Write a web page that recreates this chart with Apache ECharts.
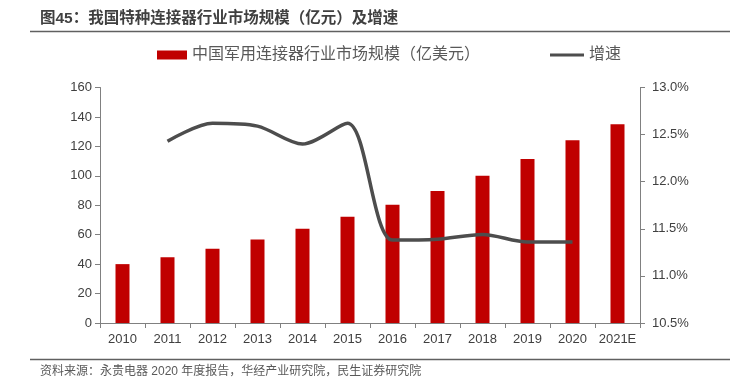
<!DOCTYPE html>
<html><head><meta charset="utf-8">
<script src="https://cdn.jsdelivr.net/npm/echarts@6/dist/echarts.min.js"></script>
<style>html,body{margin:0;padding:0;background:#fff}#c{width:736px;height:388px}</style>
</head><body><div id="c"></div>
<script>
var categories = ['2010','2011','2012','2013','2014','2015','2016','2017','2018','2019','2020','2021E'];
var marketSize = [40, 44.6, 50.5, 56.8, 64.1, 72.2, 80.4, 89.7, 100.1, 111.4, 124.1, 135];
var growth = [null, 12.43, 12.62, 12.59, 12.40, 12.62, 11.38, 11.39, 11.44, 11.36, 11.36, null];
var leftTicks = [0, 160, 20];
var rightTicks = [10.5, 13.0, 0.5];

var FONT = '"Liberation Sans", "Noto Sans CJK SC", sans-serif';
var TXT = '#404040';
var AX = '#808080';
var chart = echarts.init(document.getElementById('c'));
chart.setOption({
  animation: false,
  textStyle: {fontFamily: FONT},
  graphic: [
    {type: 'text', left: 40, top: 11, style: {text: '图45：我国特种连接器行业市场规模（亿元）及增速', font: 'bold 15.5px ' + FONT, fill: '#404040'}},
    {type: 'line', shape: {x1: 30, y1: 31.5, x2: 730, y2: 31.5}, style: {stroke: '#606060', lineWidth: 1.5}},
    {type: 'line', shape: {x1: 30, y1: 359.5, x2: 730, y2: 359.5}, style: {stroke: '#606060', lineWidth: 1.5}},
    {type: 'text', left: 40, top: 366, style: {text: '资料来源：永贵电器 2020 年度报告，华经产业研究院，民生证券研究院', font: '12px ' + FONT, fill: '#595959'}}
  ],
  legend: [
    {data: ['中国军用连接器行业市场规模（亿美元）'], left: 152, top: 42, icon: 'rect', itemWidth: 30, itemHeight: 9, itemGap: 5,
     textStyle: {fontSize: 16, color: '#595959', fontFamily: FONT}},
    {data: ['增速'], left: 545, top: 42, icon: 'rect', itemWidth: 34, itemHeight: 3, itemGap: 5,
     textStyle: {fontSize: 16, color: '#595959', fontFamily: FONT}}
  ],
  grid: {left: 100, right: 96, top: 87.5, bottom: 65, containLabel: false},
  xAxis: {
    type: 'category', data: categories, boundaryGap: true,
    axisLine: {lineStyle: {color: AX, width: 1}},
    axisTick: {show: true, alignWithLabel: false, interval: 0, length: 5, lineStyle: {color: AX}},
    axisLabel: {color: TXT, fontSize: 13, margin: 10, interval: 0, fontFamily: FONT}
  },
  yAxis: [
    {type: 'value', min: leftTicks[0], max: leftTicks[1], interval: leftTicks[2],
     axisLine: {show: true, lineStyle: {color: AX}},
     axisTick: {show: true, length: 5, lineStyle: {color: AX}},
     splitLine: {show: false},
     axisLabel: {color: TXT, fontSize: 13, margin: 8, fontFamily: FONT}},
    {type: 'value', min: rightTicks[0], max: rightTicks[1], interval: rightTicks[2], position: 'right',
     axisLine: {show: true, lineStyle: {color: AX}},
     axisTick: {show: true, length: 5, lineStyle: {color: AX}},
     splitLine: {show: false},
     axisLabel: {color: TXT, fontSize: 13, margin: 12, fontFamily: FONT,
       formatter: function (v) { return v.toFixed(1) + '%'; }}}
  ],
  series: [
    {name: '中国军用连接器行业市场规模（亿美元）', type: 'bar', data: marketSize, barWidth: 14,
     itemStyle: {color: '#C00000'}, yAxisIndex: 0},
    {name: '增速', type: 'line', data: growth, yAxisIndex: 1, smooth: 0.3, showSymbol: false, symbol: 'none',
     connectNulls: false, lineStyle: {color: '#4d4d4d', width: 3.5}, itemStyle: {color: '#4d4d4d'}}
  ]
});
</script></body></html>
